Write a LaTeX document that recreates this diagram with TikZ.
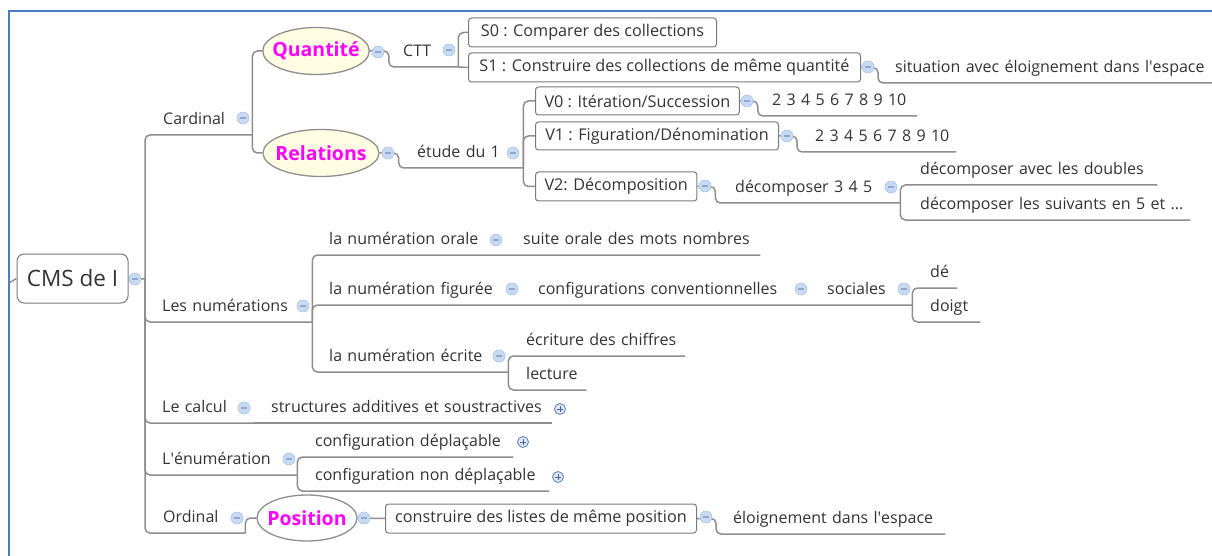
\documentclass[tikz,border=0pt]{standalone}
\usepackage{fontspec}
\setmainfont{Open Sans}
\usetikzlibrary{shapes.geometric}

\definecolor{ink}{HTML}{333333}
\definecolor{linegray}{HTML}{8E8E8E}
\definecolor{boxgray}{HTML}{7A7A7A}
\definecolor{frameblue}{HTML}{4A7CC4}
\definecolor{ovalfill}{HTML}{FFFDE2}
\definecolor{ovalink}{RGB}{255,0,255}
\definecolor{foldfill}{HTML}{C8DAF2}
\definecolor{foldedge}{HTML}{A9C3E8}
\definecolor{foldmark}{HTML}{8FA8CC}
\definecolor{plusfill}{HTML}{DDE7F5}
\definecolor{plusedge}{HTML}{5B7DB3}

\tikzset{
  link/.style={draw=linegray, line width=1.5pt, rounded corners=5pt},
  topic/.style={anchor=south west, inner sep=0pt, text height=12pt, text depth=10pt,
    align=left, text=ink, font=\fontsize{16}{20}\selectfont},
  subbox/.style={draw=boxgray, line width=1pt, rounded corners=3pt, fill=white, anchor=west,
    minimum height=29pt, inner xsep=9pt, text=ink, font=\fontsize{16.2}{20}\selectfont},
  rootbox/.style={draw=boxgray, line width=1pt, rounded corners=7pt, fill=white,
    minimum width=111pt, minimum height=49pt, text=ink, font=\fontsize{22.5}{26}\selectfont},
  oval/.style={ellipse, draw=linegray, line width=1.3pt, inner xsep=-6pt, inner ysep=0pt,
    minimum height=47pt, text=ovalink, font=\fontsize{19.5}{22}\selectfont\bfseries},
  fold/.style={circle, draw=foldedge, fill=foldfill, line width=0.6pt, minimum size=12pt, inner sep=0pt,
    path picture={\draw[foldmark, line width=1.1pt]
      ([xshift=-3pt]path picture bounding box.center) -- ([xshift=3pt]path picture bounding box.center);}},
  unfold/.style={circle, draw=plusedge, fill=plusfill, line width=0.8pt, minimum size=11pt, inner sep=0pt,
    path picture={\draw[plusedge!80!black, line width=0.9pt]
      ([xshift=-2.8pt]path picture bounding box.center) -- ([xshift=2.8pt]path picture bounding box.center)
      ([yshift=-2.8pt]path picture bounding box.center) -- ([yshift=2.8pt]path picture bounding box.center);}}
}

\begin{document}
\begin{tikzpicture}[x=1pt,y=-1pt]
  \useasboundingbox (0,0) rectangle (1212,556);

  % frame
  \draw[frameblue, line width=2pt] (8.5,556) -- (8.5,11) -- (1212,11);

  % root and trunk
  \node[rootbox] (root) at (72.5,278.5) {CMS de I};
  \coordinate (offpage) at (9,283);
  \coordinate (trunk) at (145,279);

  % Cardinal
  \node[topic, text width=89] (cardinal) at (163,135) {Cardinal};
  \node[oval, fill=ovalfill, minimum width=106] (quant) at (316,51) {Quantité};
  \node[oval, fill=ovalfill, minimum width=116] (rel) at (321,153) {Relations};
  \node[topic, text width=55] (ctt) at (403,67) {CTT};
  \node[subbox, minimum width=248] (s0) at (468,32.5) {S0 : Comparer des collections};
  \node[subbox, minimum width=392] (s1) at (468,67.5) {S1 : Construire des collections de même quantité};
  \node[topic, text width=335] (situation) at (895,83) {\mbox{situation avec éloignement dans l\textquotesingle espace}};
  \node[topic, text width=106] (etude) at (417,168) {étude du 1};
  \node[subbox, minimum width=203, minimum height=28] (v0) at (535,101) {V0 : Itération/Succession};
  \node[subbox, minimum width=243, minimum height=28] (v1) at (535,136) {V1 : Figuration/Dénomination};
  \node[subbox, minimum width=160] (v2) at (535,186.5) {V2: Décomposition};
  \node[topic, text width=145] (v0n) at (772,116) {2 3 4 5 6 7 8 9 10};
  \node[topic, text width=141] (v1n) at (815,152) {2 3 4 5 6 7 8 9 10};
  \node[topic, text width=165] (dec) at (735,203) {décomposer 3 4 5};
  \node[topic, text width=237] (dbl) at (920,185) {décomposer avec les doubles};
  \node[topic, text width=270] (suiv) at (920,220) {\mbox{décomposer les suivants en 5 et ...}};

  % Les numerations
  \node[topic, text width=150] (num) at (162,322) {Les numérations};
  \node[topic, text width=177] (orale) at (329,255) {la numération orale};
  \node[topic, text width=237] (suite) at (523,255) {suite orale des mots nombres};
  \node[topic, text width=199] (fig) at (329,305) {la numération figurée};
  \node[topic, text width=279] (conv) at (538,305) {configurations conventionnelles};
  \node[topic, text width=85] (soc) at (827,305) {sociales};
  \node[topic, text width=27] (de) at (930,288) {dé};
  \node[topic, text width=50] (doigt) at (930,322) {doigt};
  \node[topic, text width=179] (ecrite) at (329,372) {la numération écrite};
  \node[topic, text width=159] (ecriture) at (526,356) {écriture des chiffres};
  \node[topic, text width=60] (lecture) at (526,390) {lecture};

  % Le calcul, L'enumeration
  \node[topic, text width=92] (calcul) at (162,423) {Le calcul};
  \node[topic, text width=281] (struct) at (271,423) {\mbox{structures additives et soustractives}};
  \node[topic, text width=135] (enum) at (162,475) {L\textquotesingle énumération};
  \node[topic, text width=198] (depl) at (315,457) {configuration déplaçable};
  \node[topic, text width=234] (nondepl) at (315,491) {configuration non déplaçable};

  % Ordinal
  \node[topic, text width=82] (ordinal) at (163,533) {Ordinal};
  \node[oval, fill=white, minimum width=100, minimum height=46] (pos) at (307,518) {Position};
  \node[subbox, minimum width=311] (constr) at (385,518.5) {construire des listes de même position};
  \node[topic, text width=212] (eloig) at (733,534) {éloignement dans l\textquotesingle espace};

  % connectors
  \draw[link] (offpage) -- (root.west);
  \draw[link] (root.east) -- (trunk);
  \foreach \kid in {cardinal,num,calcul,enum,ordinal}
    \draw[link] (trunk) |- (\kid.south east);
  \draw[link] (cardinal.south east) |- (quant.west);
  \draw[link] (cardinal.south east) |- (rel.west);
  \draw[link] (quant.east) -- ++(19,0) |- (ctt.south east);
  \draw[link] (ctt.south east) |- (s0.west);
  \draw[link] (ctt.south east) -- (s1.west);
  \draw[link] (s1.east) -- ++(17,0) |- (situation.south east);
  \draw[link] (rel.east) -- ++(19,0) |- (etude.south east);
  \foreach \kid in {v0,v1,v2}
    \draw[link] (etude.south east) |- (\kid.west);
  \draw[link] (v0.east) -- ++(18,0) |- (v0n.south east);
  \draw[link] (v1.east) -- ++(18,0) |- (v1n.south east);
  \draw[link] (v2.east) -- ++(18,0) |- (dec.south east);
  \draw[link] (dec.south east) |- (dbl.south east);
  \draw[link] (dec.south east) |- (suiv.south east);
  \draw[link] (num.south east) |- (orale.south east) -- (suite.south east);
  \draw[link] (num.south east) |- (fig.south east) -- (conv.south east) -- (soc.south east);
  \draw[link] (soc.south east) |- (de.south east);
  \draw[link] (soc.south east) |- (doigt.south east);
  \draw[link] (num.south east) |- (ecrite.south east);
  \draw[link] (ecrite.south east) |- (ecriture.south east);
  \draw[link] (ecrite.south east) |- (lecture.south east);
  \draw[link] (calcul.south east) -- (struct.south east);
  \draw[link] (enum.south east) |- (depl.south east);
  \draw[link] (enum.south east) |- (nondepl.south east);
  \draw[link] (ordinal.south east) |- (pos.west);
  \draw[link] (pos.east) -- (constr.west);
  \draw[link] (constr.east) -- ++(19,0) |- (eloig.south east);

  % fold markers
  \node[fold] (root-f) at (135,279) {};
  \node[fold] (card-f) at (243,118) {};
  \node[fold] (quant-f) at (378,52) {};
  \node[fold] (ctt-f) at (449,50) {};
  \node[fold] (s1-f) at (868,67) {};
  \node[fold] (rel-f) at (388,153) {};
  \node[fold] (etude-f) at (513,153) {};
  \node[fold] (v0-f) at (747,101) {};
  \node[fold] (v1-f) at (787,136) {};
  \node[fold] (v2-f) at (705,186) {};
  \node[fold] (dec-f) at (891,187) {};
  \node[fold] (num-f) at (303,306) {};
  \node[fold] (orale-f) at (496,240) {};
  \node[fold] (fig-f) at (512,289) {};
  \node[fold] (conv-f) at (801,289) {};
  \node[fold] (soc-f) at (904,289) {};
  \node[fold] (ecrite-f) at (499,356) {};
  \node[fold] (calcul-f) at (244,408) {};
  \node[fold] (enum-f) at (289,459) {};
  \node[fold] (ord-f) at (237,518) {};
  \node[fold] (pos-f) at (364,518) {};
  \node[fold] (constr-f) at (706,517) {};
  \node[unfold] (struct-p) at (560,409) {};
  \node[unfold] (depl-p) at (523,442) {};
  \node[unfold] (nondepl-p) at (558,477) {};
\end{tikzpicture}
\end{document}
